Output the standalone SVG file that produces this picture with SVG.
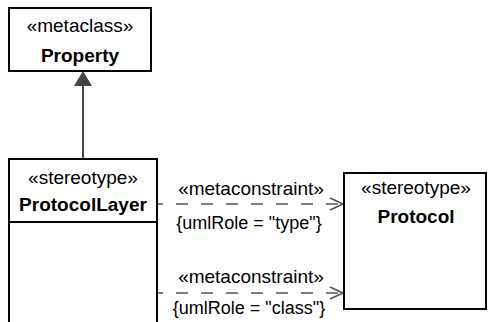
<svg xmlns="http://www.w3.org/2000/svg" width="488" height="322" viewBox="0 0 488 322">
<style>
.box{fill:#fff;stroke:#000;stroke-width:2}
.t{font-family:"Liberation Sans",Arial,sans-serif;font-size:19px;fill:#000;text-anchor:middle}
.s{font-size:18px}
.b{font-weight:bold}
.gen{stroke:#444;stroke-width:2;fill:none}
.dep{stroke:#555;stroke-width:1.6;fill:none;stroke-dasharray:12 13}
.head{stroke:#555;stroke-width:1.6;fill:none}
</style>
<rect width="488" height="322" fill="#fff"/>
<g id="connectors">
<g id="generalization">
<line class="gen" x1="83" y1="85" x2="83" y2="159"/>
<polygon points="83,71 74,86 92,86" fill="#444"/>
</g>
<g id="metaconstraint-type">
<line class="dep" x1="157" y1="204" x2="343" y2="204" stroke-dashoffset="6"/>
<polyline class="head" points="330,198 343,204 330,210"/>
<text class="t" x="251" y="195">«metaconstraint»</text>
<text class="t s" x="249" y="229">{umlRole = "type"}</text>
</g>
<g id="metaconstraint-class">
<line class="dep" x1="157" y1="293" x2="343" y2="293" stroke-dashoffset="6"/>
<polyline class="head" points="330,287 343,293 330,299"/>
<text class="t" x="251" y="283">«metaconstraint»</text>
<text class="t s" x="249" y="314">{umlRole = "class"}</text>
</g>
</g>
<g id="Property">
<rect class="box" x="9" y="8" width="142" height="63"/>
<text class="t" x="80" y="32">«metaclass»</text>
<text class="t b" x="80" y="62">Property</text>
</g>
<g id="ProtocolLayer">
<rect class="box" x="9" y="159" width="148" height="180"/>
<line stroke="#000" stroke-width="2" x1="9" y1="222" x2="157" y2="222"/>
<text class="t" x="83" y="184">«stereotype»</text>
<text class="t b" x="83" y="211">ProtocolLayer</text>
</g>
<g id="Protocol">
<rect class="box" x="344" y="173" width="142" height="136"/>
<text class="t" x="416" y="194">«stereotype»</text>
<text class="t b" x="416" y="223">Protocol</text>
</g>
</svg>
